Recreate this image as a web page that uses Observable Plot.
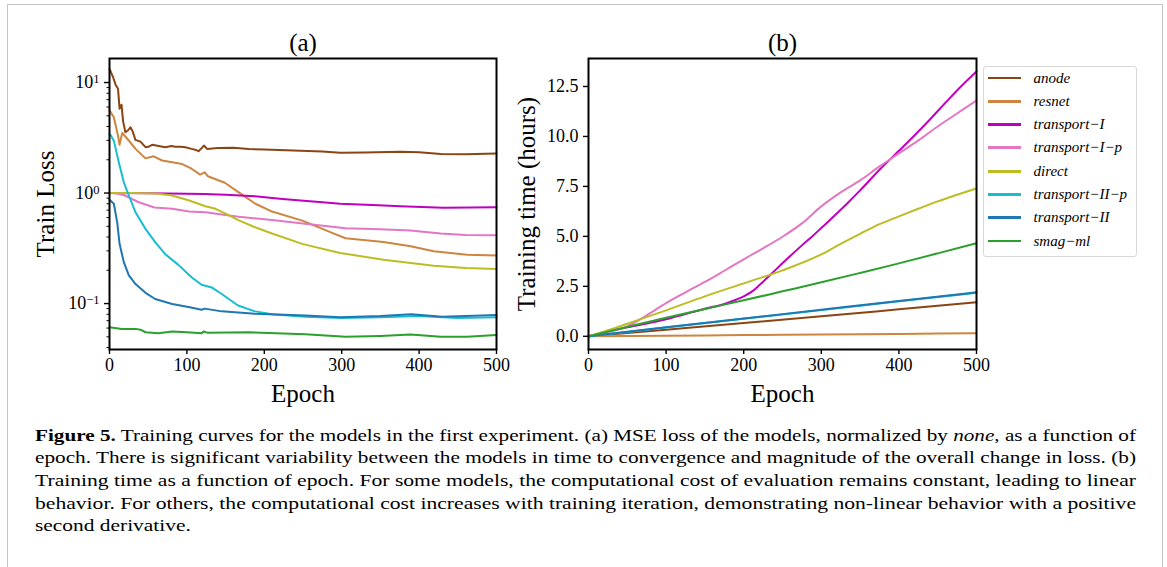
<!DOCTYPE html>
<html>
<head>
<meta charset="utf-8">
<script src="https://cdn.jsdelivr.net/npm/d3@7"></script>
<script src="https://cdn.jsdelivr.net/npm/@observablehq/plot@0.6"></script>
<style>
  body { margin: 0; background: #fff; }
  #root { position: relative; width: 1167px; height: 567px; overflow: hidden; background: #fff;
          font-family: "Liberation Serif", "Times New Roman", serif; color: #000; }
  #border { position: absolute; left: 6.5px; top: 4px; width: 1156px; height: 700px;
            border: 1.5px solid #c4c4c4; box-sizing: border-box; }
  #pa { position: absolute; left: 0; top: 0; }
  #pb { position: absolute; left: 480px; top: 0; }
  #legend { position: absolute; left: 983px; top: 65.5px; width: 154px; height: 191px;
            border: 1px solid #d8d8d8; border-radius: 3px; box-sizing: border-box; background: #fff; }
  .row { position: absolute; left: 4px; height: 20px; display: flex; align-items: center; }
  .sw { width: 33px; height: 2.8px; }
  .lab { margin-left: 12.5px; font-style: italic; font-size: 15px; white-space: nowrap; font-family: "Liberation Serif", serif; }
  #caption { position: absolute; left: 35px; top: 424.5px; width: 1101px; font-size: 17px; line-height: 22.7px; font-family: "Liberation Serif", serif; }
  .cl { white-space: nowrap; height: 22.7px; }
  .cl span { display: inline-block; transform-origin: 0 50%; }
</style>
</head>
<body>
<div id="root">
  <div id="border"></div>
  <div id="pa"></div>
  <div id="pb"></div>
  <div id="legend"></div>
  <div id="caption">
    <div class="cl"><span><b>Figure 5.</b> Training curves for the models in the first experiment. (a) MSE loss of the models, normalized by <i>none</i>, as a function of</span></div>
    <div class="cl"><span>epoch. There is significant variability between the models in time to convergence and magnitude of the overall change in loss. (b)</span></div>
    <div class="cl"><span>Training time as a function of epoch. For some models, the computational cost of evaluation remains constant, leading to linear</span></div>
    <div class="cl"><span>behavior. For others, the computational cost increases with training iteration, demonstrating non-linear behavior with a positive</span></div>
    <div class="cl last"><span>second derivative.</span></div>
  </div>
</div>
<script>
// ---------- data ----------
const seriesNames = ["anode", "resnet", "transport−I", "transport−I−p", "direct", "transport−II−p", "transport−II", "smag−ml"];
const seriesColors = ["#8b4513", "#cd853f", "#bf00bf", "#e377c2", "#bcbd22", "#17becf", "#1f77b4", "#2ca02c"];

const epochTicks = [0, 100, 200, 300, 400, 500];
const lossMajorTicks = [0.1, 1, 10];
const lossMajorLabels = ["10^−1", "10^0", "10^1"];
const lossMinorTicks = [0.04, 0.05, 0.06, 0.07, 0.08, 0.09, 0.2, 0.3, 0.4, 0.5, 0.6, 0.7, 0.8, 0.9, 2, 3, 4, 5, 6, 7, 8, 9];
const timeTicks = [0, 2.5, 5, 7.5, 10, 12.5];

// (a) train loss: [epoch, loss]
const lossAnode = [[0,13.2],[1,12.8],[5,11],[8,9.5],[11,8.8],[13,5.8],[15.5,6.3],[17.5,4.5],[20.5,3.55],[24,3.7],[27,3.94],[30,3.6],[33.5,3.03],[40,2.92],[46.5,2.6],[50,2.62],[55,2.73],[62,2.68],[72,2.6],[80,2.66],[85,2.63],[92,2.62],[98,2.6],[106,2.51],[112,2.45],[115,2.39],[119,2.55],[122,2.69],[126,2.51],[140,2.55],[160,2.57],[180,2.5],[200,2.48],[247,2.42],[275,2.38],[298,2.31],[330,2.33],[376,2.37],[400,2.34],[428,2.26],[460,2.25],[500,2.28]];
const lossResnet = [[0,5.6],[5.6,4.85],[11,3.31],[13,2.73],[16.4,3.5],[23,3.1],[33.6,2.51],[46.5,2.06],[57,2.15],[68,1.97],[81,1.9],[94,1.83],[106,1.66],[117,1.47],[123,1.54],[127,1.42],[149,1.24],[166.5,1.02],[188.5,0.8],[210,0.68],[250,0.56],[290,0.43],[305,0.39],[354,0.36],[389,0.33],[419,0.297],[462,0.276],[500,0.272]];
const lossTransportI = [[0,1.0],[50,0.995],[100,0.985],[122,0.98],[150,0.965],[188,0.935],[220,0.89],[247,0.855],[275,0.825],[298,0.8],[340,0.78],[376,0.76],[431,0.735],[500,0.745]];
const lossTransportIp = [[0,1.0],[10,0.99],[20,0.95],[37,0.83],[58,0.74],[81,0.72],[103,0.68],[124,0.67],[145,0.64],[167,0.61],[210,0.57],[250,0.53],[305,0.48],[350,0.47],[389,0.458],[428,0.43],[460,0.418],[500,0.415]];
const lossDirect = [[0,1.0],[30,1.0],[60,0.99],[81,0.95],[103,0.855],[124,0.76],[137,0.72],[150,0.65],[167,0.565],[188,0.49],[210,0.43],[250,0.345],[298,0.287],[354,0.249],[419,0.22],[460,0.21],[500,0.206]];
const lossTransportIIp = [[0,3.4],[1.3,3.36],[5.6,2.98],[12,1.9],[18.5,1.25],[25,0.95],[33.6,0.67],[46.5,0.474],[59,0.36],[72,0.28],[89,0.224],[106,0.173],[119,0.148],[132,0.14],[145,0.122],[166,0.096],[188,0.085],[210,0.08],[253,0.076],[300,0.074],[350,0.075],[400,0.077],[450,0.074],[500,0.075]];
const lossTransportII = [[0,0.87],[5.6,0.8],[10,0.54],[13,0.347],[18.5,0.237],[25,0.18],[33.6,0.15],[46.5,0.125],[59,0.11],[81,0.099],[102,0.093],[119,0.088],[123,0.09],[145,0.085],[188,0.081],[253,0.078],[298,0.075],[350,0.077],[390,0.08],[430,0.076],[500,0.079]];
const lossSmagMl = [[0,0.061],[16,0.059],[34,0.059],[40,0.058],[46.5,0.055],[63,0.054],[81,0.056],[100,0.055],[119,0.054],[122,0.056],[126,0.0545],[180,0.055],[253,0.0528],[305,0.05],[350,0.051],[389,0.0525],[428,0.05],[462,0.05],[500,0.052]];

// (b) training time (hours): [epoch, hours]
const timeAnode = [[0,0],[100,0.33],[200,0.66],[300,1.0],[400,1.35],[500,1.7]];
const timeResnet = [[0,0],[100,0.03],[200,0.06],[300,0.09],[400,0.12],[500,0.15]];
const timeTransportI = [[0,0],[50,0.45],[100,0.85],[125,1.12],[150,1.38],[175,1.62],[190,1.83],[200,2.0],[210,2.22],[220,2.55],[232,2.99],[245,3.47],[255,3.84],[275,4.55],[290,5.06],[300,5.42],[333,6.63],[350,7.3],[376,8.37],[400,9.28],[420,10.05],[440,10.85],[462,11.77],[480,12.5],[500,13.25]];
const timeTransportIp = [[0,0],[25,0.22],[50,0.5],[75,1.05],[100,1.66],[125,2.2],[150,2.72],[175,3.28],[200,3.85],[225,4.4],[250,4.98],[275,5.65],[300,6.5],[325,7.2],[350,7.8],[375,8.5],[400,9.15],[425,9.8],[450,10.5],[475,11.15],[500,11.8]];
const timeDirect = [[0,0],[25,0.3],[50,0.63],[100,1.3],[150,2.0],[200,2.65],[250,3.3],[300,4.1],[325,4.63],[350,5.13],[375,5.61],[400,6.0],[425,6.38],[450,6.75],[475,7.08],[500,7.4]];
const timeTransportIIp = [[0,0],[100,0.44],[200,0.88],[300,1.31],[400,1.75],[500,2.18]];
const timeTransportII = [[0,0],[100,0.45],[200,0.89],[300,1.33],[400,1.77],[500,2.2]];
const timeSmagMl = [[0,0],[50,0.47],[100,0.93],[150,1.37],[200,1.8],[250,2.25],[300,2.7],[350,3.17],[400,3.65],[450,4.15],[500,4.66]];

const lossSeries = [lossAnode, lossResnet, lossTransportI, lossTransportIp, lossDirect, lossTransportIIp, lossTransportII, lossSmagMl];
const timeSeries = [timeAnode, timeResnet, timeTransportI, timeTransportIp, timeDirect, timeTransportIIp, timeTransportII, timeSmagMl];

const toRows = (arrs) => arrs.flatMap((a, i) => a.map(([e, v]) => ({name: seriesNames[i], epoch: e, value: v})));
const lossRows = toRows(lossSeries);
const timeRows = toRows(timeSeries);

const FONT = '"Liberation Serif", "Times New Roman", serif';
const common = {
  width: 500, height: 420, marginTop: 58, marginBottom: 71, marginRight: 4,
  style: {fontFamily: FONT, fontSize: "18px", background: "transparent", color: "#000", overflow: "visible"},
  color: {domain: seriesNames, range: seriesColors},
  x: {domain: [0, 500]}
};

function lineMarks(rows) {
  return Plot.line(rows, {x: "epoch", y: "value", z: "name", stroke: "name", strokeWidth: 2, strokeLinejoin: "round", curve: "monotone-x"});
}

function textMarks(title, ylabel, ydx) {
  const o = {text: d => d, textAnchor: "middle", lineAnchor: "middle", fontSize: 25, fontFamily: FONT};
  return [
    Plot.text([title], {...o, frameAnchor: "top", dy: -16}),
    Plot.text(["Epoch"], {...o, frameAnchor: "bottom", dy: 44}),
    Plot.text([ylabel], {...o, frameAnchor: "left", dx: ydx, rotate: -90})
  ];
}
const axisOpts = {tickSize: 5, strokeWidth: 1.4, fontSize: 18, fontFamily: FONT, label: null};

// ---------- panel (a) ----------
const pa = Plot.plot({
  ...common,
  marginLeft: 109,
  y: {type: "log", domain: [0.0384, 16.5]},
  marks: [
    Plot.line(lossRows, {x: "epoch", y: "value", z: "name", stroke: "name", strokeWidth: 2, strokeLinejoin: "round"}),
    Plot.frame({stroke: "#000", strokeWidth: 2}),
    Plot.axisX({...axisOpts, ticks: epochTicks, tickPadding: 4, tickFormat: d => String(d)}),
    Plot.axisY({...axisOpts, ticks: lossMajorTicks, tickPadding: 5, tickFormat: d => lossMajorLabels[lossMajorTicks.indexOf(d)]}),
    Plot.axisY({ticks: lossMinorTicks, tickSize: 2.5, strokeWidth: 1, label: null, tickFormat: () => ""}),
    ...textMarks("(a)", "Train Loss", -64)
  ]
});
document.getElementById("pa").appendChild(pa);

// superscript exponents for log tick labels
d3.select(pa).selectAll("text").each(function () {
  const t = this.textContent;
  const m = /^10\^(.+)$/.exec(t);
  if (m && this.childNodes.length === 1) {
    const sel = d3.select(this);
    sel.text(null);
    sel.append("tspan").text("10");
    sel.append("tspan").attr("dy", "-0.42em").attr("font-size", "12.5px").text(m[1]);
  }
});

// ---------- panel (b) ----------
const pb = Plot.plot({
  ...common,
  marginLeft: 108,
  y: {domain: [-0.66, 13.9]},
  marks: [
    lineMarks(timeRows),
    Plot.frame({stroke: "#000", strokeWidth: 2}),
    Plot.axisX({...axisOpts, ticks: epochTicks, tickPadding: 4, tickFormat: d => String(d)}),
    Plot.axisY({...axisOpts, ticks: timeTicks, tickPadding: 5, tickFormat: d => d.toFixed(1)}),
    ...textMarks("(b)", "Training time (hours)", -62)
  ]
});
document.getElementById("pb").appendChild(pb);

// ---------- legend ----------
const legend = document.getElementById("legend");
seriesNames.forEach((n, i) => {
  const row = document.createElement("div");
  row.className = "row";
  row.style.top = (1.5 + i * 23.3) + "px";
  const sw = document.createElement("div");
  sw.className = "sw";
  sw.style.background = seriesColors[i];
  const lab = document.createElement("span");
  lab.className = "lab";
  lab.textContent = n;
  row.appendChild(sw);
  row.appendChild(lab);
  legend.appendChild(row);
});

// ---------- caption: stretch each justified line to the measure ----------
const target = 1101;
let kSum = 0, kCount = 0;
document.querySelectorAll("#caption .cl").forEach(div => {
  if (div.classList.contains("last")) return;
  const span = div.querySelector("span");
  const w = span.getBoundingClientRect().width;
  const k = target / w;
  span.style.transform = "scaleX(" + k + ")";
  kSum += k; kCount++;
});
const lastSpan = document.querySelector("#caption .last span");
if (kCount) lastSpan.style.transform = "scaleX(" + (kSum / kCount) + ")";
</script>
</body>
</html>
